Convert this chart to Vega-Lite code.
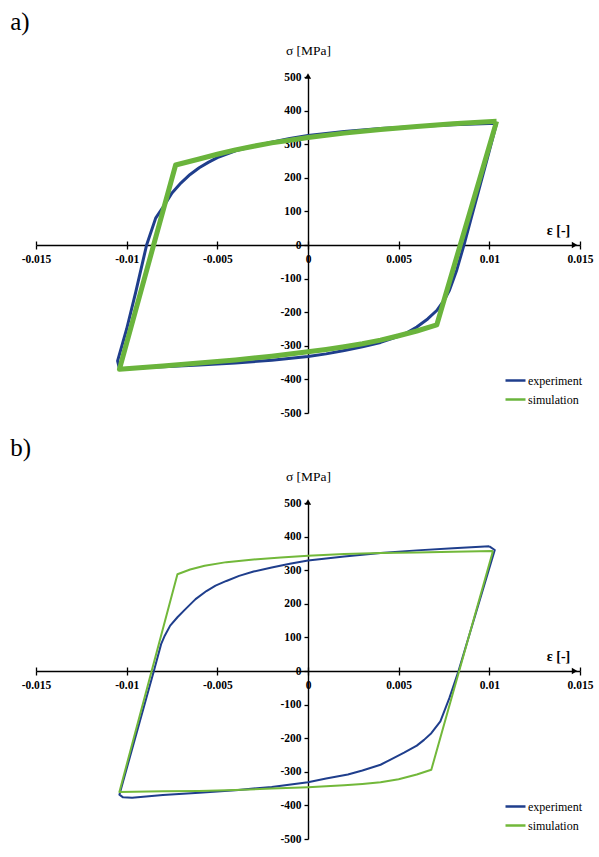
{
  "$schema": "https://vega.github.io/schema/vega-lite/v6.json",
  "background": "white",
  "padding": {"left": 10, "top": 10, "right": 5, "bottom": 5},
  "config": {
    "view": {"stroke": null},
    "axis": {"grid": false, "domainColor": "black", "domainWidth": 1.4, "tickColor": "black", "tickWidth": 1.3, "labelOverlap": false,
      "labelFont": "Liberation Serif", "labelFontWeight": "bold", "labelFontSize": 11.5, "labelColor": "black",
      "titleFont": "Liberation Serif", "titleColor": "black"},
    "legend": {"labelFont": "Liberation Serif", "labelFontSize": 12, "labelColor": "black"},
    "title": {"font": "Liberation Serif", "fontSize": 25, "fontWeight": "normal", "color": "black", "anchor": "start"}
  },
  "datasets": {
    "a_exp": [
      {"eps": 0.0104, "sigma": 362, "series": "experiment"},
      {"eps": 0.0099, "sigma": 260, "series": "experiment"},
      {"eps": 0.0094, "sigma": 160, "series": "experiment"},
      {"eps": 0.0090, "sigma": 80, "series": "experiment"},
      {"eps": 0.0086, "sigma": 0, "series": "experiment"},
      {"eps": 0.0082, "sigma": -75, "series": "experiment"},
      {"eps": 0.0078, "sigma": -135, "series": "experiment"},
      {"eps": 0.0075, "sigma": -165, "series": "experiment"},
      {"eps": 0.0071, "sigma": -195, "series": "experiment"},
      {"eps": 0.0066, "sigma": -220, "series": "experiment"},
      {"eps": 0.0060, "sigma": -244, "series": "experiment"},
      {"eps": 0.0055, "sigma": -260, "series": "experiment"},
      {"eps": 0.0050, "sigma": -272, "series": "experiment"},
      {"eps": 0.0040, "sigma": -290, "series": "experiment"},
      {"eps": 0.0030, "sigma": -303, "series": "experiment"},
      {"eps": 0.0020, "sigma": -314, "series": "experiment"},
      {"eps": 0.0010, "sigma": -324, "series": "experiment"},
      {"eps": 0.0000, "sigma": -332, "series": "experiment"},
      {"eps": -0.0020, "sigma": -343, "series": "experiment"},
      {"eps": -0.0040, "sigma": -351, "series": "experiment"},
      {"eps": -0.0060, "sigma": -357, "series": "experiment"},
      {"eps": -0.0080, "sigma": -362, "series": "experiment"},
      {"eps": -0.0104, "sigma": -368, "series": "experiment"},
      {"eps": -0.0105, "sigma": -345, "series": "experiment"},
      {"eps": -0.0100, "sigma": -250, "series": "experiment"},
      {"eps": -0.0095, "sigma": -140, "series": "experiment"},
      {"eps": -0.0089, "sigma": 0, "series": "experiment"},
      {"eps": -0.0084, "sigma": 80, "series": "experiment"},
      {"eps": -0.0080, "sigma": 112, "series": "experiment"},
      {"eps": -0.0075, "sigma": 155, "series": "experiment"},
      {"eps": -0.0070, "sigma": 185, "series": "experiment"},
      {"eps": -0.0065, "sigma": 210, "series": "experiment"},
      {"eps": -0.0060, "sigma": 230, "series": "experiment"},
      {"eps": -0.0055, "sigma": 246, "series": "experiment"},
      {"eps": -0.0050, "sigma": 260, "series": "experiment"},
      {"eps": -0.0040, "sigma": 280, "series": "experiment"},
      {"eps": -0.0030, "sigma": 294, "series": "experiment"},
      {"eps": -0.0020, "sigma": 306, "series": "experiment"},
      {"eps": -0.0010, "sigma": 317, "series": "experiment"},
      {"eps": 0.0000, "sigma": 326, "series": "experiment"},
      {"eps": 0.0020, "sigma": 338, "series": "experiment"},
      {"eps": 0.0040, "sigma": 347, "series": "experiment"},
      {"eps": 0.0060, "sigma": 353, "series": "experiment"},
      {"eps": 0.0080, "sigma": 358, "series": "experiment"},
      {"eps": 0.0104, "sigma": 362, "series": "experiment"}
    ],
    "a_sim": [
      {"eps": 0.0104, "sigma": 368, "series": "simulation"},
      {"eps": 0.0071, "sigma": -238, "series": "simulation"},
      {"eps": 0.0060, "sigma": -256, "series": "simulation"},
      {"eps": 0.0050, "sigma": -270, "series": "simulation"},
      {"eps": 0.0040, "sigma": -283, "series": "simulation"},
      {"eps": 0.0030, "sigma": -294, "series": "simulation"},
      {"eps": 0.0020, "sigma": -303, "series": "simulation"},
      {"eps": 0.0010, "sigma": -311, "series": "simulation"},
      {"eps": 0.0000, "sigma": -318, "series": "simulation"},
      {"eps": -0.0020, "sigma": -331, "series": "simulation"},
      {"eps": -0.0040, "sigma": -342, "series": "simulation"},
      {"eps": -0.0060, "sigma": -351, "series": "simulation"},
      {"eps": -0.0080, "sigma": -360, "series": "simulation"},
      {"eps": -0.0104, "sigma": -370, "series": "simulation"},
      {"eps": -0.0073, "sigma": 238, "series": "simulation"},
      {"eps": -0.0060, "sigma": 256, "series": "simulation"},
      {"eps": -0.0050, "sigma": 270, "series": "simulation"},
      {"eps": -0.0040, "sigma": 283, "series": "simulation"},
      {"eps": -0.0030, "sigma": 294, "series": "simulation"},
      {"eps": -0.0020, "sigma": 304, "series": "simulation"},
      {"eps": -0.0010, "sigma": 312, "series": "simulation"},
      {"eps": 0.0000, "sigma": 320, "series": "simulation"},
      {"eps": 0.0020, "sigma": 333, "series": "simulation"},
      {"eps": 0.0040, "sigma": 344, "series": "simulation"},
      {"eps": 0.0060, "sigma": 353, "series": "simulation"},
      {"eps": 0.0080, "sigma": 361, "series": "simulation"},
      {"eps": 0.0104, "sigma": 368, "series": "simulation"}
    ],
    "b_exp": [
      {"eps": 0.0100, "sigma": 371, "series": "experiment"},
      {"eps": 0.0103, "sigma": 360, "series": "experiment"},
      {"eps": 0.0083, "sigma": 0, "series": "experiment"},
      {"eps": 0.0078, "sigma": -80, "series": "experiment"},
      {"eps": 0.0073, "sigma": -150, "series": "experiment"},
      {"eps": 0.0068, "sigma": -185, "series": "experiment"},
      {"eps": 0.0064, "sigma": -205, "series": "experiment"},
      {"eps": 0.0060, "sigma": -222, "series": "experiment"},
      {"eps": 0.0053, "sigma": -243, "series": "experiment"},
      {"eps": 0.0045, "sigma": -265, "series": "experiment"},
      {"eps": 0.0040, "sigma": -279, "series": "experiment"},
      {"eps": 0.0030, "sigma": -296, "series": "experiment"},
      {"eps": 0.0022, "sigma": -308, "series": "experiment"},
      {"eps": 0.0010, "sigma": -320, "series": "experiment"},
      {"eps": 0.0000, "sigma": -331, "series": "experiment"},
      {"eps": -0.0020, "sigma": -345, "series": "experiment"},
      {"eps": -0.0040, "sigma": -355, "series": "experiment"},
      {"eps": -0.0060, "sigma": -362, "series": "experiment"},
      {"eps": -0.0080, "sigma": -369, "series": "experiment"},
      {"eps": -0.0097, "sigma": -377, "series": "experiment"},
      {"eps": -0.0102, "sigma": -376, "series": "experiment"},
      {"eps": -0.0104, "sigma": -368, "series": "experiment"},
      {"eps": -0.0085, "sigma": 0, "series": "experiment"},
      {"eps": -0.0081, "sigma": 80, "series": "experiment"},
      {"eps": -0.0079, "sigma": 105, "series": "experiment"},
      {"eps": -0.0076, "sigma": 135, "series": "experiment"},
      {"eps": -0.0072, "sigma": 160, "series": "experiment"},
      {"eps": -0.0068, "sigma": 182, "series": "experiment"},
      {"eps": -0.0062, "sigma": 214, "series": "experiment"},
      {"eps": -0.0056, "sigma": 238, "series": "experiment"},
      {"eps": -0.0051, "sigma": 254, "series": "experiment"},
      {"eps": -0.0045, "sigma": 268, "series": "experiment"},
      {"eps": -0.0038, "sigma": 283, "series": "experiment"},
      {"eps": -0.0030, "sigma": 296, "series": "experiment"},
      {"eps": -0.0020, "sigma": 308, "series": "experiment"},
      {"eps": -0.0010, "sigma": 319, "series": "experiment"},
      {"eps": 0.0000, "sigma": 329, "series": "experiment"},
      {"eps": 0.0020, "sigma": 341, "series": "experiment"},
      {"eps": 0.0040, "sigma": 351, "series": "experiment"},
      {"eps": 0.0060, "sigma": 359, "series": "experiment"},
      {"eps": 0.0080, "sigma": 365, "series": "experiment"},
      {"eps": 0.0100, "sigma": 371, "series": "experiment"}
    ],
    "b_sim": [
      {"eps": 0.0102, "sigma": 357, "series": "simulation"},
      {"eps": 0.0068, "sigma": -294, "series": "simulation"},
      {"eps": 0.0060, "sigma": -308, "series": "simulation"},
      {"eps": 0.0050, "sigma": -322, "series": "simulation"},
      {"eps": 0.0040, "sigma": -331, "series": "simulation"},
      {"eps": 0.0030, "sigma": -336, "series": "simulation"},
      {"eps": 0.0020, "sigma": -340, "series": "simulation"},
      {"eps": 0.0010, "sigma": -343, "series": "simulation"},
      {"eps": 0.0000, "sigma": -346, "series": "simulation"},
      {"eps": -0.0020, "sigma": -350, "series": "simulation"},
      {"eps": -0.0040, "sigma": -354, "series": "simulation"},
      {"eps": -0.0060, "sigma": -357, "series": "simulation"},
      {"eps": -0.0080, "sigma": -358, "series": "simulation"},
      {"eps": -0.0104, "sigma": -360, "series": "simulation"},
      {"eps": -0.0072, "sigma": 288, "series": "simulation"},
      {"eps": -0.0065, "sigma": 302, "series": "simulation"},
      {"eps": -0.0057, "sigma": 313, "series": "simulation"},
      {"eps": -0.0045, "sigma": 324, "series": "simulation"},
      {"eps": -0.0030, "sigma": 332, "series": "simulation"},
      {"eps": -0.0015, "sigma": 338, "series": "simulation"},
      {"eps": 0.0000, "sigma": 343, "series": "simulation"},
      {"eps": 0.0020, "sigma": 348, "series": "simulation"},
      {"eps": 0.0040, "sigma": 351, "series": "simulation"},
      {"eps": 0.0060, "sigma": 353, "series": "simulation"},
      {"eps": 0.0080, "sigma": 355, "series": "simulation"},
      {"eps": 0.0102, "sigma": 357, "series": "simulation"}
    ]
  },
  "vconcat": [
    {
      "width": 544,
      "height": 336,
      "title": {"text": "a)", "dx": -11, "offset": 8},
      "resolve": {"axis": {"x": "independent", "y": "independent"}},
      "layer": [
        {
          "data": {"name": "a_exp"},
          "mark": {"type": "line", "strokeWidth": 3, "strokeJoin": "round"},
          "encoding": {
            "x": {"field": "eps", "type": "quantitative", "scale": {"domain": [-0.015, 0.015], "nice": false, "zero": false},
              "axis": {"orient": "bottom", "offset": -168, "values": [-0.015, -0.01, -0.005, 0, 0.005, 0.01, 0.015], "labelExpr": "'' + datum.value", "tickSize": 4, "labelPadding": 4, "labelFlush": false, "labelOverlap": false,
                "title": "ε [-]", "titleFontSize": 14, "titleFontWeight": "bold", "titleX": 522, "titleY": -15, "titleBaseline": "middle", "titleAlign": "center"}},
            "y": {"field": "sigma", "type": "quantitative", "scale": {"domain": [-500, 500], "nice": false},
              "axis": {"orient": "left", "offset": -272, "values": [-500, -400, -300, -200, -100, 0, 100, 200, 300, 400, 500], "labelExpr": "'' + datum.value", "tickSize": 4, "labelPadding": 3, "labelFlush": false, "labelOverlap": false, "labelBound": false,
                "title": "σ [MPa]", "titleFontSize": 13.5, "titleFontWeight": "normal", "titleAngle": 0, "titleX": 0, "titleY": -27, "titleBaseline": "middle", "titleAlign": "center"}},
            "color": {"field": "series", "type": "nominal", "scale": {"domain": ["experiment", "simulation"], "range": ["#1f3e8c", "#6ab43c"]},
              "legend": {"orient": "none", "legendX": 468, "legendY": 292, "title": null, "symbolType": "stroke", "symbolStrokeWidth": 2.5, "symbolSize": 400, "rowPadding": 1, "labelOffset": 1}},
            "order": {"value": null}
          }
        },
        {
          "data": {"name": "a_sim"},
          "mark": {"type": "line", "strokeWidth": 5, "strokeJoin": "round"},
          "encoding": {
            "x": {"field": "eps", "type": "quantitative",
              "axis": {"orient": "bottom", "offset": -168, "values": [-0.015, -0.01, -0.005, 0, 0.005, 0.01, 0.015], "tickSize": -4, "labels": false, "domain": false, "title": null}},
            "y": {"field": "sigma", "type": "quantitative", "axis": null},
            "color": {"field": "series", "type": "nominal"},
            "order": {"value": null}
          }
        },
        {
          "data": {"values": [{}]},
          "mark": {"type": "point", "shape": "triangle-up", "filled": true, "color": "black", "size": 40, "opacity": 1},
          "encoding": {"x": {"datum": 0, "type": "quantitative", "axis": null}, "y": {"datum": 503, "type": "quantitative", "axis": null}}
        },
        {
          "data": {"values": [{}]},
          "mark": {"type": "point", "shape": "triangle-right", "filled": true, "color": "black", "size": 40, "opacity": 1},
          "encoding": {"x": {"datum": 0.0147, "type": "quantitative", "axis": null}, "y": {"datum": 0, "type": "quantitative", "axis": null}}
        }
      ]
    },
    {
      "width": 544,
      "height": 336,
      "title": {"text": "b)", "dx": -11, "offset": 8},
      "resolve": {"axis": {"x": "independent", "y": "independent"}},
      "layer": [
        {
          "data": {"name": "b_exp"},
          "mark": {"type": "line", "strokeWidth": 2, "strokeJoin": "round"},
          "encoding": {
            "x": {"field": "eps", "type": "quantitative", "scale": {"domain": [-0.015, 0.015], "nice": false, "zero": false},
              "axis": {"orient": "bottom", "offset": -168, "values": [-0.015, -0.01, -0.005, 0, 0.005, 0.01, 0.015], "labelExpr": "'' + datum.value", "tickSize": 4, "labelPadding": 4, "labelFlush": false, "labelOverlap": false,
                "title": "ε [-]", "titleFontSize": 14, "titleFontWeight": "bold", "titleX": 522, "titleY": -15, "titleBaseline": "middle", "titleAlign": "center"}},
            "y": {"field": "sigma", "type": "quantitative", "scale": {"domain": [-500, 500], "nice": false},
              "axis": {"orient": "left", "offset": -272, "values": [-500, -400, -300, -200, -100, 0, 100, 200, 300, 400, 500], "labelExpr": "'' + datum.value", "tickSize": 4, "labelPadding": 3, "labelFlush": false, "labelOverlap": false, "labelBound": false,
                "title": "σ [MPa]", "titleFontSize": 13.5, "titleFontWeight": "normal", "titleAngle": 0, "titleX": 0, "titleY": -27, "titleBaseline": "middle", "titleAlign": "center"}},
            "color": {"field": "series", "type": "nominal", "scale": {"domain": ["experiment", "simulation"], "range": ["#1f3e8c", "#72b83a"]},
              "legend": {"orient": "none", "legendX": 468, "legendY": 292, "title": null, "symbolType": "stroke", "symbolStrokeWidth": 2.5, "symbolSize": 400, "rowPadding": 1, "labelOffset": 1}},
            "order": {"value": null}
          }
        },
        {
          "data": {"name": "b_sim"},
          "mark": {"type": "line", "strokeWidth": 2, "strokeJoin": "round"},
          "encoding": {
            "x": {"field": "eps", "type": "quantitative",
              "axis": {"orient": "bottom", "offset": -168, "values": [-0.015, -0.01, -0.005, 0, 0.005, 0.01, 0.015], "tickSize": -4, "labels": false, "domain": false, "title": null}},
            "y": {"field": "sigma", "type": "quantitative", "axis": null},
            "color": {"field": "series", "type": "nominal"},
            "order": {"value": null}
          }
        },
        {
          "data": {"values": [{}]},
          "mark": {"type": "point", "shape": "triangle-up", "filled": true, "color": "black", "size": 40, "opacity": 1},
          "encoding": {"x": {"datum": 0, "type": "quantitative", "axis": null}, "y": {"datum": 503, "type": "quantitative", "axis": null}}
        },
        {
          "data": {"values": [{}]},
          "mark": {"type": "point", "shape": "triangle-right", "filled": true, "color": "black", "size": 40, "opacity": 1},
          "encoding": {"x": {"datum": 0.0147, "type": "quantitative", "axis": null}, "y": {"datum": 0, "type": "quantitative", "axis": null}}
        }
      ]
    }
  ],
  "bounds": "flush",
  "spacing": 90,
  "resolve": {"scale": {"color": "independent"}, "legend": {"color": "independent"}}
}
